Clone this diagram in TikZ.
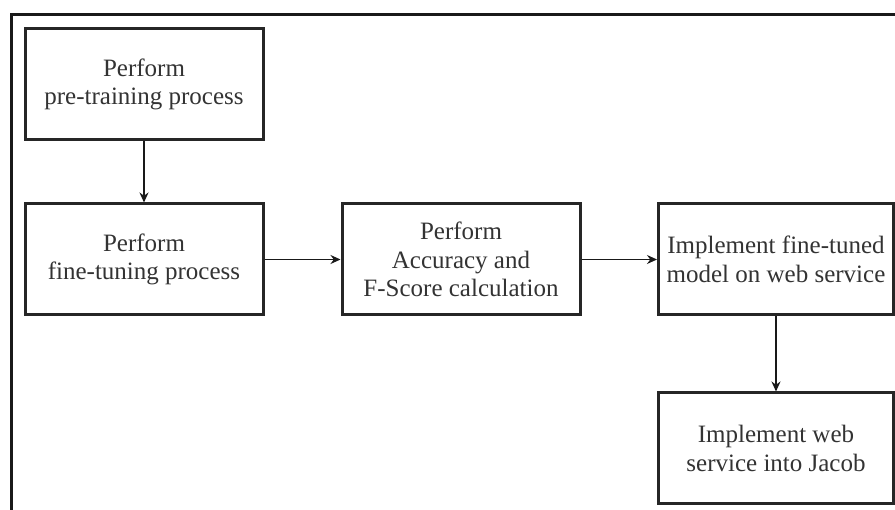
\documentclass[tikz,border=0pt]{standalone}
\usepackage{fontspec}
\setmainfont{Liberation Serif}
\usetikzlibrary{arrows.meta}
\tikzset{
  box/.style={draw=black!85, line width=3pt, fill=white, minimum width=238pt, minimum height=111pt,
    align=center, font=\fontsize{25}{28.5}\selectfont, text=black!80, inner sep=0pt},
  conn/.style={draw=black!90, line width=1.5pt, -{Stealth[length=10pt,width=9pt]}}
}
\begin{document}
\begin{tikzpicture}[x=1pt,y=-1pt]
\useasboundingbox (0,0) rectangle (895,510);
\clip (0,0) rectangle (895,510);
\fill[white] (0,0) rectangle (895,510);
\draw[line width=3pt, black!90] (11,520) -- (11,15) -- (905,15);
\node[box] (pre) at (144,84.5) {Perform\\pre-training process};
\node[box] (fine) at (144,259.5) {Perform\\fine-tuning process};
\node[box] (acc) at (461,259.5) {Perform\\Accuracy and\\F-Score calculation};
\node[box, minimum width=235pt] (impl) at (776,259.5) {Implement fine-tuned\\model on web service};
\node[box, minimum width=235pt] (jacob) at (776,448.5) {Implement web\\service into Jacob};
\draw[conn] (pre) -- (fine);
\draw[conn] (fine) -- (acc);
\draw[conn] (acc) -- (impl);
\draw[conn] (impl) -- (jacob);
\end{tikzpicture}
\end{document}
